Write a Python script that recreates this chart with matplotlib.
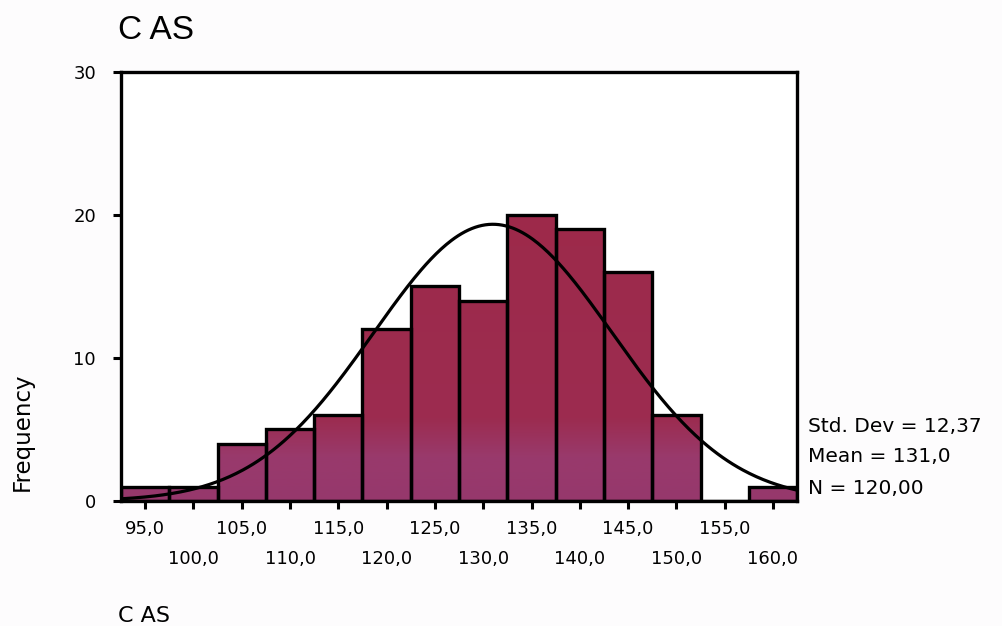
import numpy as np
import matplotlib.pyplot as plt
from matplotlib.colors import LinearSegmentedColormap

# CAS frequency histogram, 5-unit bins
bin_centers = [95, 100, 105, 110, 115, 120, 125, 130, 135, 140, 145, 150, 155, 160]
counts = [1, 1, 4, 5, 6, 12, 15, 14, 20, 19, 16, 6, 0, 1]
std_dev = 12.37
mean = 131.0
n_total = 120
bin_width = 5

plt.rcParams['font.family'] = ['DejaVu Sans']
label_font = 'DejaVu Sans'

fig = plt.figure(figsize=(10.02, 6.26), dpi=100)
fig.patch.set_facecolor('#fdfcfd')
ax = fig.add_axes([0.1208, 0.1997, 0.6747, 0.6853])
ax.set_facecolor('white')

x_lo = bin_centers[0] - bin_width / 2
x_hi = bin_centers[-1] + bin_width / 2

# bars, filled with a red-to-purple vertical shade
shade = LinearSegmentedColormap.from_list(
    'shade', [(0.0, '#96386c'), (0.10, '#993a6c'), (0.19, '#9c2c50'), (1.0, '#9e2846')])
grad = np.linspace(0, 1, 256).reshape(-1, 1)
bars = ax.bar(bin_centers, counts, width=bin_width, facecolor='none',
              edgecolor='black', linewidth=2.4, zorder=3)
for b in bars:
    if b.get_height() <= 0:
        continue
    im = ax.imshow(grad, cmap=shade, origin='lower', aspect='auto',
                   extent=[x_lo, x_hi, 0, 30], zorder=2)
    im.set_clip_path(b)

# fitted normal curve
xs = np.linspace(x_lo, x_hi, 400)
ys = n_total * bin_width / (std_dev * np.sqrt(2 * np.pi)) * np.exp(-0.5 * ((xs - mean) / std_dev) ** 2)
ax.plot(xs, ys, color='black', linewidth=2.3, zorder=4)

ax.set_xlim(x_lo, x_hi)
ax.set_ylim(0, 30)

for s in ax.spines.values():
    s.set_linewidth(2.4)

ax.set_yticks([0, 10, 20, 30])
ax.set_yticklabels(['0', '10', '20', '30'], fontsize=13, family=label_font)
ax.tick_params(axis='y', length=6, width=2.2, pad=12)

labels = [f'{c:.1f}'.replace('.', ',') for c in bin_centers]
ax.set_xticks(bin_centers[0::2], labels=labels[0::2], fontsize=13, family=label_font)
ax.set_xticks(bin_centers[1::2], labels=labels[1::2], minor=True, fontsize=13, family=label_font)
ax.tick_params(axis='x', which='major', length=6, width=2.2, pad=8)
ax.tick_params(axis='x', which='minor', length=6, width=2.2, pad=29)

fig.text(0.118, 0.952, 'C AS', fontsize=24, ha='left', va='center', family='Liberation Sans')
fig.text(0.118, 1 - 616 / 626, 'C AS', fontsize=16, ha='left', va='center', family=label_font)
fig.text(0.022, 1 - 432 / 626, 'Frequency', fontsize=16.5, rotation=90,
         ha='center', va='center', family=label_font)

stats = ['Std. Dev = ' + f'{std_dev:.2f}'.replace('.', ','),
         'Mean = ' + f'{mean:.1f}'.replace('.', ','),
         'N = ' + f'{n_total:.2f}'.replace('.', ',')]
for i, t in enumerate(stats):
    fig.text(0.806, 1 - (426 + 31 * i) / 626, t, fontsize=14.5, ha='left', va='center',
             family=label_font)

fig.savefig('out.png', dpi=100)
